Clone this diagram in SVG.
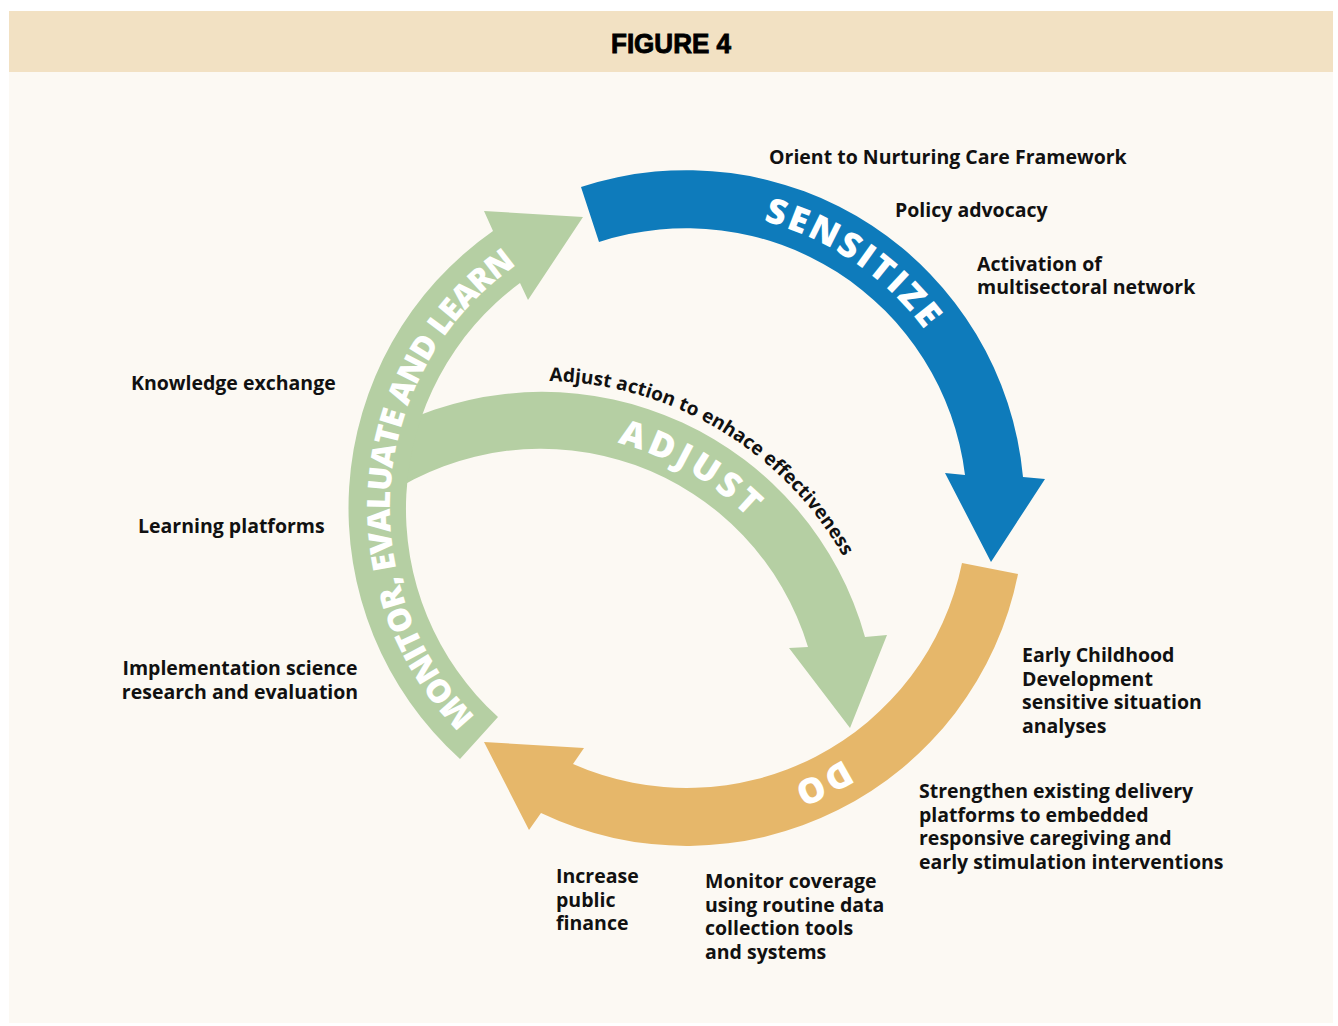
<svg xmlns="http://www.w3.org/2000/svg" width="1338" height="1026" viewBox="0 0 1338 1026">
<style>
.lbl{font-family:"Open Sans","Liberation Sans",sans-serif;font-weight:700;font-size:19.5px;fill:#111}
.big{font-family:"Open Sans","Liberation Sans",sans-serif;font-weight:800;font-size:35px;fill:#fff}
.mel{font-family:"Open Sans","Liberation Sans",sans-serif;font-weight:800;font-size:32px;fill:#fff}
.adj{font-family:"Open Sans","Liberation Sans",sans-serif;font-weight:700;font-size:19px;fill:#111}
.blue{fill:#0e7bbb}
.green{fill:#b5cfa3}
.orange{fill:#e6b76a}
</style>
<defs>
<path id="pSens" d="M 635.43,215.51 A 297 297 0 0 1 977.51,446.25"/>
<path id="pMel" d="M 495.30,734.85 A 297 297 0 0 1 539.40,250.27"/>
<path id="pAdj" d="M 464.42,443.42 A 294 294 0 0 1 825.58,649.42"/>
<path id="pDo" d="M 965.15,609.24 A 296 296 0 0 1 600.46,791.06"/>
<path id="pAdjTxt" d="M 549.25,381.08 A 346 346 0 0 1 876.21,637.45"/>
</defs>
<rect x="0" y="0" width="1338" height="1026" fill="#ffffff"/>
<rect x="9" y="72" width="1324" height="951" fill="#fcf9f3"/>
<g id="header">
<rect x="9" y="11" width="1324" height="61" fill="#f2e1c3"/>
<text x="671" y="53" text-anchor="middle" font-family="Liberation Sans, sans-serif" font-weight="700" font-size="27" textLength="120" lengthAdjust="spacingAndGlyphs" fill="#000" stroke="#000" stroke-width="0.9">FIGURE 4</text>
</g>
<g id="connectors">
<path id="adjust-arrow" class="green" d="M 400.42,423.39 A 335 335 0 0 1 865,637 L 887,635 L 850,728 L 789,648 L 808,647 A 279 279 0 0 0 385.99,495.70 Z"/>
</g>
<g id="sensitize">
<path class="blue" d="M 581,187 A 338 338 0 0 1 1023,477 L 1045,479 L 991,562 L 945,473 L 965,475 A 281 281 0 0 0 599,242 Z"/>
<text class="big"><textPath href="#pSens" startOffset="50%" text-anchor="middle" textLength="198" lengthAdjust="spacing">SENSITIZE</textPath></text>
</g>
<g id="do">
<path class="orange" d="M 1018,574 A 338 338 0 0 1 541,813 L 529,830 L 484,742 L 584,748 L 573,764 A 281 281 0 0 0 962,563 Z"/>
<text class="big"><textPath href="#pDo" startOffset="50%" text-anchor="middle" textLength="56" lengthAdjust="spacing">DO</textPath></text>
</g>
<g id="monitor">
<path class="green" d="M 460,759 A 338 338 0 0 1 493,231 L 484,211 L 583,217 L 528,300 L 520,283 A 281 281 0 0 0 498,717 Z"/>
<text class="mel"><textPath href="#pMel" startOffset="50%" text-anchor="middle" textLength="516" lengthAdjust="spacing">MONITOR, EVALUATE AND LEARN</textPath></text>
</g>
<g id="adjust">
<text class="big"><textPath href="#pAdj" startOffset="50%" text-anchor="middle" textLength="152" lengthAdjust="spacing">ADJUST</textPath></text>
<text class="adj"><textPath href="#pAdjTxt" startOffset="0" textLength="358" lengthAdjust="spacing">Adjust action to enhace effectiveness</textPath></text>
</g>
<g id="sensitize-labels">
<text class="lbl" x="769" y="164">Orient to Nurturing Care Framework</text>
<text class="lbl" x="895" y="217">Policy advocacy</text>
<text class="lbl" x="977" y="271">Activation of</text>
<text class="lbl" x="977" y="294">multisectoral network</text>
</g>
<g id="monitor-labels">
<text class="lbl" x="131" y="390">Knowledge exchange</text>
<text class="lbl" x="138" y="533">Learning platforms</text>
<text class="lbl" x="240" y="675" text-anchor="middle">Implementation science</text>
<text class="lbl" x="240" y="698.5" text-anchor="middle">research and evaluation</text>
</g>
<g id="do-labels">
<text class="lbl" x="1022" y="662">Early Childhood</text>
<text class="lbl" x="1022" y="685.5">Development</text>
<text class="lbl" x="1022" y="709">sensitive situation</text>
<text class="lbl" x="1022" y="732.5">analyses</text>
<text class="lbl" x="919" y="798">Strengthen existing delivery</text>
<text class="lbl" x="919" y="821.5">platforms to embedded</text>
<text class="lbl" x="919" y="845">responsive caregiving and</text>
<text class="lbl" x="919" y="868.5">early stimulation interventions</text>
<text class="lbl" x="556" y="883">Increase</text>
<text class="lbl" x="556" y="906.5">public</text>
<text class="lbl" x="556" y="930">finance</text>
<text class="lbl" x="705" y="888">Monitor coverage</text>
<text class="lbl" x="705" y="911.5">using routine data</text>
<text class="lbl" x="705" y="935">collection tools</text>
<text class="lbl" x="705" y="958.5">and systems</text>
</g>
</svg>
